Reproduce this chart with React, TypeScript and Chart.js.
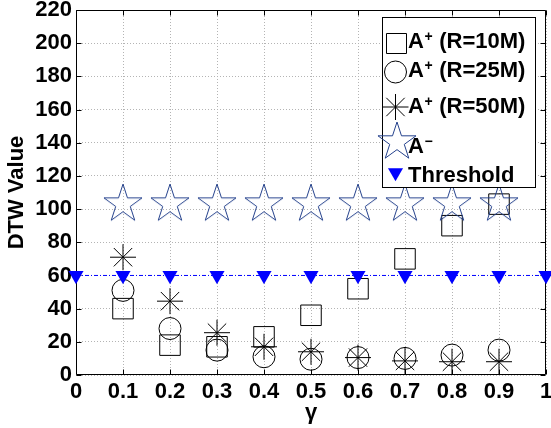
import React, { useEffect, useRef } from "react";
import { Chart, registerables } from "chart.js";

Chart.register(...registerables);

// ---- data ----
const gamma = [0.1, 0.2, 0.3, 0.4, 0.5, 0.6, 0.7, 0.8, 0.9];
const thresholdGamma = [0, 0.1, 0.2, 0.3, 0.4, 0.5, 0.6, 0.7, 0.8, 0.9, 1];
const aPlusR10 = [40, 18, 17, 23, 36, 52, 70, 90, 103];
const aPlusR25 = [51, 28, 15, 11, 9.5, 10.5, 10, 12, 15];
const aPlusR50 = [71, 44.5, 25.5, 17, 14, 10.5, 8.5, 8, 8];
const aMinus = [103, 103, 103, 103, 103, 103, 103, 103, 103];
const threshold = [60, 60, 60, 60, 60, 60, 60, 60, 60, 60, 60];
const xTicks = [0, 0.1, 0.2, 0.3, 0.4, 0.5, 0.6, 0.7, 0.8, 0.9, 1];
const yTicks = [0, 20, 40, 60, 80, 100, 120, 140, 160, 180, 200, 220];
const seriesLabels = ["A\u207A (R=10M)", "A\u207A (R=25M)", "A\u207A (R=50M)", "A\u207B", "Threshold"];
const legendParts = [
  { base: "A", sup: "+", rest: " (R=10M)" },
  { base: "A", sup: "+", rest: " (R=25M)" },
  { base: "A", sup: "+", rest: " (R=50M)" },
  { base: "A", sup: "\u2212", rest: "" },
  { base: "Threshold", sup: "", rest: "" },
];

const FONT = "'Liberation Sans', Arial, Helvetica, sans-serif";
const STAR_COLOR = "#24418c";
const BLUE = "#0000ff";

function makePentagram(R: number, color: string): HTMLCanvasElement {
  const size = 44;
  const c = document.createElement("canvas");
  c.width = size;
  c.height = size;
  const ctx = c.getContext("2d")!;
  const cx = size / 2;
  const cy = size / 2;
  const r = R * 0.382;
  ctx.beginPath();
  for (let i = 0; i < 10; i++) {
    const ang = -Math.PI / 2 + (i * Math.PI) / 5;
    const rr = i % 2 === 0 ? R : r;
    const px = cx + Math.cos(ang) * rr;
    const py = cy + Math.sin(ang) * rr;
    if (i === 0) ctx.moveTo(px, py);
    else ctx.lineTo(px, py);
  }
  ctx.closePath();
  ctx.strokeStyle = color;
  ctx.lineWidth = 1;
  ctx.stroke();
  return c;
}

const pts = (xs: number[], ys: number[]) => xs.map((x, i) => ({ x, y: ys[i] }));

export default function App() {
  const ref = useRef<HTMLCanvasElement | null>(null);

  useEffect(() => {
    document.body.style.margin = "0";
    const canvas = ref.current!;
    const pentagram = makePentagram(20, STAR_COLOR);

    const framePlugin = {
      id: "frameTicks",
      beforeDatasetsDraw(chart: any) {
        const ctx = chart.ctx;
        const { left, right, top, bottom } = chart.chartArea;
        const xs = chart.scales.x;
        const ys = chart.scales.y;
        ctx.save();
        ctx.strokeStyle = "#000";
        ctx.lineWidth = 1;
        ctx.beginPath();
        const L = Math.round(left) + 0.5;
        const Rr = Math.round(right) - 0.5;
        const T = Math.round(top) + 0.5;
        const B = Math.round(bottom) - 0.5;
        ctx.rect(L, T, Rr - L, B - T);
        xTicks.forEach((v) => {
          const px = Math.round(xs.getPixelForValue(v)) + 0.5;
          ctx.moveTo(px, B);
          ctx.lineTo(px, B - 5);
          ctx.moveTo(px, T);
          ctx.lineTo(px, T + 5);
        });
        yTicks.forEach((v) => {
          const py = Math.round(ys.getPixelForValue(v)) + 0.5;
          ctx.moveTo(L, py);
          ctx.lineTo(L + 5, py);
          ctx.moveTo(Rr, py);
          ctx.lineTo(Rr - 5, py);
        });
        ctx.stroke();
        ctx.restore();
      },
    };

    const legendPlugin = {
      id: "customLegend",
      afterDraw(chart: any) {
        const ctx = chart.ctx;
        const { right, top } = chart.chartArea;
        const bx = Math.round(right) - 164;
        const by = Math.round(top) + 7;
        const bw = 154;
        const bh = 171;
        ctx.save();
        ctx.fillStyle = "#fff";
        ctx.fillRect(bx, by, bw, bh);
        ctx.strokeStyle = "#000";
        ctx.lineWidth = 1;
        ctx.strokeRect(bx + 0.5, by + 0.5, bw - 1, bh - 1);

        const markerY = [26, 55, 90, 125, 155.5];
        const baseY = [31, 60, 96, 136, 165];
        const mx = bx + 13.5;
        // square
        ctx.strokeStyle = "#000";
        ctx.beginPath();
        ctx.rect(Math.round(mx - 10) + 0.5, Math.round(by + markerY[0] - 10) + 0.5, 20, 20);
        ctx.stroke();
        // circle
        ctx.beginPath();
        ctx.arc(mx, by + markerY[1], 11, 0, Math.PI * 2);
        ctx.stroke();
        // asterisk
        ctx.beginPath();
        const ay = by + markerY[2];
        for (let k = 0; k < 4; k++) {
          const a = (k * Math.PI) / 4;
          const dx = Math.sin(a) * 13;
          const dy = Math.cos(a) * 13;
          ctx.moveTo(mx - dx, ay - dy);
          ctx.lineTo(mx + dx, ay + dy);
        }
        ctx.stroke();
        // pentagram
        ctx.drawImage(pentagram, Math.round(bx + 15 - 22), Math.round(by + markerY[3] - 22));
        // triangle
        const ty = by + markerY[4];
        const tr = 8.7;
        ctx.fillStyle = BLUE;
        ctx.beginPath();
        ctx.moveTo(mx, ty + tr);
        ctx.lineTo(mx - tr * 0.866, ty - tr / 2);
        ctx.lineTo(mx + tr * 0.866, ty - tr / 2);
        ctx.closePath();
        ctx.fill();

        ctx.fillStyle = "#000";
        ctx.textBaseline = "alphabetic";
        ctx.textAlign = "left";
        legendParts.forEach((p, i) => {
          let x = bx + 26;
          const y = by + baseY[i];
          ctx.font = `bold 22px ${FONT}`;
          ctx.fillText(p.base, x, y);
          x += ctx.measureText(p.base).width;
          if (p.sup) {
            ctx.font = `bold 14px ${FONT}`;
            ctx.fillText(p.sup, x + 0.5, y - 7);
            x += ctx.measureText(p.sup).width + 1;
          }
          if (p.rest) {
            ctx.font = `bold 22px ${FONT}`;
            ctx.fillText(p.rest, x, y);
          }
        });
        ctx.restore();
      },
    };

    const chart = new Chart(canvas, {
      type: "scatter",
      data: {
        datasets: [
          {
            label: seriesLabels[0],
            data: pts(gamma, aPlusR10),
            pointStyle: "rect",
            pointRadius: 14.5,
            borderColor: "#000",
            backgroundColor: "rgba(0,0,0,0)",
            borderWidth: 1,
            order: 5,
            clip: false,
          },
          {
            label: seriesLabels[1],
            data: pts(gamma, aPlusR25),
            pointStyle: "circle",
            pointRadius: 11,
            borderColor: "#000",
            backgroundColor: "rgba(0,0,0,0)",
            borderWidth: 1,
            order: 4,
            clip: false,
          },
          {
            label: seriesLabels[2],
            data: pts(gamma, aPlusR50),
            pointStyle: "star",
            pointRadius: 13,
            borderColor: "#000",
            backgroundColor: "rgba(0,0,0,0)",
            borderWidth: 1,
            order: 3,
            clip: false,
          },
          {
            label: seriesLabels[3],
            data: pts(gamma, aMinus),
            pointStyle: pentagram as any,
            pointRadius: 20,
            borderColor: STAR_COLOR,
            backgroundColor: "rgba(0,0,0,0)",
            borderWidth: 1,
            order: 2,
            clip: false,
          },
          {
            label: seriesLabels[4],
            data: pts(thresholdGamma, threshold),
            showLine: true,
            borderColor: BLUE,
            borderWidth: 1,
            borderDash: [4, 2, 1, 2],
            pointStyle: "triangle",
            rotation: 180,
            pointRadius: 8.7,
            pointBackgroundColor: BLUE,
            pointBorderColor: BLUE,
            pointBorderWidth: 0,
            backgroundColor: BLUE,
            order: 1,
            clip: false,
          } as any,
        ],
      },
      options: {
        responsive: false,
        animation: false,
        devicePixelRatio: 1,
        events: [],
        layout: { autoPadding: false, padding: { left: 0, right: 5, top: 10, bottom: 0 } },
        plugins: {
          legend: { display: false },
          tooltip: { enabled: false },
        },
        scales: {
          x: {
            type: "linear",
            min: 0,
            max: 1,
            afterBuildTicks: (s: any) => {
              s.ticks = xTicks.map((v) => ({ value: v }));
            },
            afterFit: (s: any) => {
              s.height = 53;
              s.paddingLeft = 0;
              s.paddingRight = 0;
            },
            ticks: {
              color: "#000",
              font: { family: FONT, size: 22, weight: "bold" },
              padding: 4,
              maxRotation: 0,
              autoSkip: false,
              callback: (v: any) => String(v),
            },
            grid: { color: "#b4b4b4", lineWidth: 1, drawTicks: false },
            border: { display: false, dash: [1, 2] },
            title: {
              display: true,
              text: "\u03B3",
              color: "#000",
              font: { family: FONT, size: 22, weight: "bold" },
              padding: { top: 0, bottom: 2 },
            },
          },
          y: {
            type: "linear",
            min: 0,
            max: 220,
            afterBuildTicks: (s: any) => {
              s.ticks = yTicks.map((v) => ({ value: v }));
            },
            afterFit: (s: any) => {
              s.width = 76;
              s.paddingTop = 0;
              s.paddingBottom = 0;
            },
            ticks: {
              color: "#000",
              font: { family: FONT, size: 22, weight: "bold" },
              padding: 4,
              autoSkip: false,
              callback: (v: any) => String(v),
            },
            grid: { color: "#b4b4b4", lineWidth: 1, drawTicks: false },
            border: { display: false, dash: [1, 2] },
            title: {
              display: true,
              text: "DTW Value",
              color: "#000",
              font: { family: FONT, size: 22, weight: "bold" },
              padding: { top: 4, bottom: 0 },
            },
          },
        },
      },
      plugins: [framePlugin, legendPlugin],
    } as any);

    return () => {
      chart.destroy();
    };
  }, []);

  return (
    <div style={{ width: 551, height: 428 }}>
      <canvas ref={ref} width={551} height={428} style={{ display: "block" }} />
    </div>
  );
}
